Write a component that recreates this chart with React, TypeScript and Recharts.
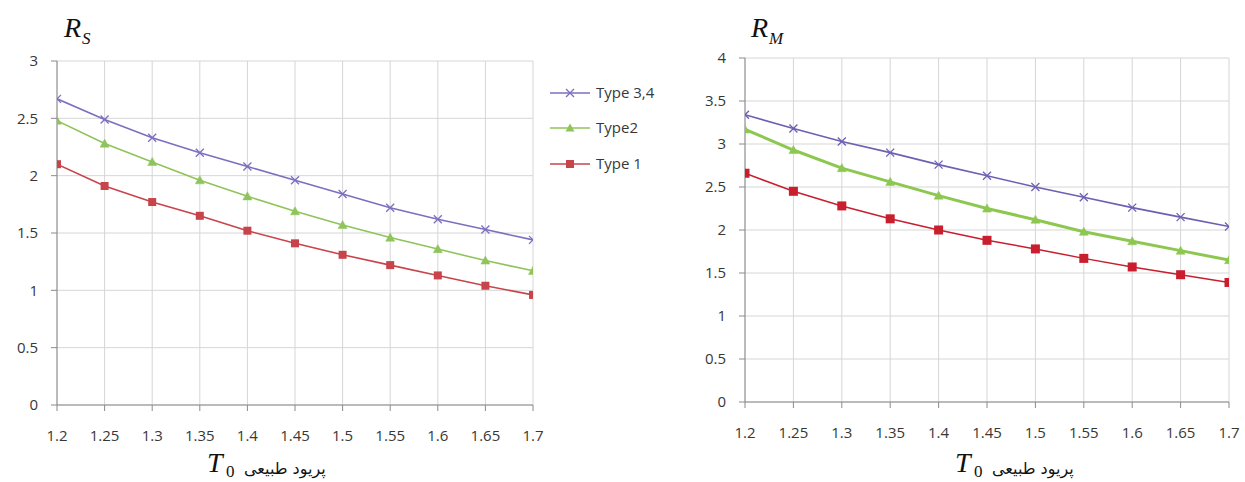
import React from "react";
import { LineChart, Line, XAxis, YAxis, CartesianGrid } from "recharts";

const T0 = [1.2, 1.25, 1.3, 1.35, 1.4, 1.45, 1.5, 1.55, 1.6, 1.65, 1.7];
const T0_MINOR = [1.225, 1.275, 1.325, 1.375, 1.425, 1.475, 1.525, 1.575, 1.625, 1.675];

const rsType34 = [2.67, 2.49, 2.33, 2.2, 2.08, 1.96, 1.84, 1.72, 1.62, 1.53, 1.44];
const rsType2 = [2.48, 2.28, 2.12, 1.96, 1.82, 1.69, 1.57, 1.46, 1.36, 1.26, 1.17];
const rsType1 = [2.1, 1.91, 1.77, 1.65, 1.52, 1.41, 1.31, 1.22, 1.13, 1.04, 0.96];

const rmType34 = [3.34, 3.18, 3.03, 2.9, 2.76, 2.63, 2.5, 2.38, 2.26, 2.15, 2.04];
const rmType2 = [3.17, 2.93, 2.72, 2.56, 2.4, 2.25, 2.12, 1.98, 1.87, 1.76, 1.65];
const rmType1 = [2.66, 2.45, 2.28, 2.13, 2.0, 1.88, 1.78, 1.67, 1.57, 1.48, 1.39];

const RS_TICKS = [0, 0.5, 1, 1.5, 2, 2.5, 3];
const RM_TICKS = [0, 0.5, 1, 1.5, 2, 2.5, 3, 3.5, 4];

const LEGEND = ["Type 3,4", "Type2", "Type 1"];

const rsData = T0.map((t, i) => ({ t, a: rsType34[i], b: rsType2[i], c: rsType1[i] }));
const rmData = T0.map((t, i) => ({ t, a: rmType34[i], b: rmType2[i], c: rmType1[i] }));

const FONT = "'Open Sans', sans-serif";
const LABEL = "#383838";
const GRID = "#d6d6d6";
const AXIS = "#8a8a8a";

const crossDot = (color: string, s: number) => (p: any) => {
  const { cx, cy, index } = p;
  if (cx == null || cy == null) return <g key={index} />;
  return (
    <path
      key={index}
      d={`M${cx - s},${cy - s}L${cx + s},${cy + s}M${cx - s},${cy + s}L${cx + s},${cy - s}`}
      stroke={color}
      strokeWidth={1.3}
      fill="none"
    />
  );
};
const triDot = (color: string, s: number) => (p: any) => {
  const { cx, cy, index } = p;
  if (cx == null || cy == null) return <g key={index} />;
  return (
    <polygon
      key={index}
      points={`${cx},${cy - s} ${cx + s},${cy + s * 0.8} ${cx - s},${cy + s * 0.8}`}
      fill={color}
      stroke={color}
      strokeWidth={0.5}
    />
  );
};
const sqDot = (color: string, s: number) => (p: any) => {
  const { cx, cy, index } = p;
  if (cx == null || cy == null) return <g key={index} />;
  return <rect key={index} x={cx - s} y={cy - s} width={2 * s} height={2 * s} fill={color} />;
};

const tickStyle = { fontFamily: FONT, fontSize: 15, fill: LABEL };

function Chart(props: {
  data: any[];
  width: number;
  margin: any;
  yWidth: number;
  yTicks: number[];
  yMax: number;
  colors: string[];
  widths: number[];
  sizes: number[];
}) {
  const { data, width, margin, yWidth, yTicks, yMax, colors, widths, sizes } = props;
  return (
    <LineChart width={width} height={482} data={data} margin={margin}>
      <CartesianGrid stroke={GRID} strokeWidth={1} />
      <XAxis
        dataKey="t"
        type="number"
        domain={[1.2, 1.7]}
        ticks={T0}
        interval={0}
        tickFormatter={(v: number) => String(v)}
        height={40}
        tickSize={6}
        tickMargin={19}
        stroke={AXIS}
        tick={tickStyle}
        allowDataOverflow
      />
      <XAxis
        xAxisId="minor"
        dataKey="t"
        type="number"
        domain={[1.2, 1.7]}
        ticks={T0_MINOR}
        interval={0}
        mirror
        tick={false}
        axisLine={false}
        tickSize={5}
        stroke={AXIS}
        height={1}
        allowDataOverflow
      />
      <YAxis
        type="number"
        domain={[0, yMax]}
        ticks={yTicks}
        interval={0}
        width={yWidth}
        tickSize={6}
        tickMargin={13}
        stroke={AXIS}
        tick={tickStyle}
        tickFormatter={(v: number) => String(v)}
      />
      <Line dataKey="a" stroke={colors[0]} strokeWidth={widths[0]} dot={crossDot(colors[0], sizes[0])} isAnimationActive={false} />
      <Line dataKey="b" stroke={colors[1]} strokeWidth={widths[1]} dot={triDot(colors[1], sizes[1])} isAnimationActive={false} />
      <Line dataKey="c" stroke={colors[2]} strokeWidth={widths[2]} dot={sqDot(colors[2], sizes[2])} isAnimationActive={false} />
    </LineChart>
  );
}

const LEFT_COLORS = ["#7b70bf", "#8fc45a", "#c8444b"];
const RIGHT_COLORS = ["#6c60b3", "#8cc850", "#c81e2e"];

export default function App() {
  const legendY = [93, 128, 164];
  return (
    <div style={{ position: "absolute", left: 0, top: 0, width: 1245, height: 482, background: "#fff", overflow: "hidden" }}>
      <div style={{ position: "absolute", left: 0, top: 0 }}>
        <Chart
          data={rsData}
          width={545}
          margin={{ top: 61, right: 12, left: 0, bottom: 37 }}
          yWidth={57}
          yTicks={RS_TICKS}
          yMax={3}
          colors={LEFT_COLORS}
          widths={[1.6, 1.6, 1.6]}
          sizes={[4, 4.5, 4]}
        />
      </div>
      <div style={{ position: "absolute", left: 680, top: 0 }}>
        <Chart
          data={rmData}
          width={565}
          margin={{ top: 58, right: 16, left: 0, bottom: 40 }}
          yWidth={65}
          yTicks={RM_TICKS}
          yMax={4}
          colors={RIGHT_COLORS}
          widths={[1.6, 3, 1.5]}
          sizes={[4, 4.5, 4.5]}
        />
      </div>
      <svg width={1245} height={482} style={{ position: "absolute", left: 0, top: 0, pointerEvents: "none" }}>
        <text x={64} y={37} fontFamily="'Liberation Serif', serif" fontStyle="italic" fontSize={28} fill="#111">R</text>
        <text x={82} y={44} fontFamily="'Liberation Serif', serif" fontStyle="italic" fontSize={17} fill="#111">S</text>
        <text x={751} y={37} fontFamily="'Liberation Serif', serif" fontStyle="italic" fontSize={28} fill="#111">R</text>
        <text x={769} y={44} fontFamily="'Liberation Serif', serif" fontStyle="italic" fontSize={17} fill="#111">M</text>

        <text x={207} y={472} fontFamily="'Liberation Serif', serif" fontStyle="italic" fontSize={28} fill="#111">T</text>
        <text x={226} y={477} fontFamily="'Liberation Serif', serif" fontSize={17} fill="#111">0</text>
        <text x={244} y={474} fontFamily="'DejaVu Sans', sans-serif" fontSize={16} fill="#111">پریود طبیعی</text>

        <text x={955} y={472} fontFamily="'Liberation Serif', serif" fontStyle="italic" fontSize={28} fill="#111">T</text>
        <text x={974} y={477} fontFamily="'Liberation Serif', serif" fontSize={17} fill="#111">0</text>
        <text x={992} y={474} fontFamily="'DejaVu Sans', sans-serif" fontSize={16} fill="#111">پریود طبیعی</text>

        {LEGEND.map((name, i) => {
          const y = legendY[i];
          const c = LEFT_COLORS[i];
          return (
            <g key={name}>
              <line x1={550} x2={590} y1={y} y2={y} stroke={c} strokeWidth={1.5} />
              {i === 0 && <path d={`M566,${y - 4}L574,${y + 4}M566,${y + 4}L574,${y - 4}`} stroke={c} strokeWidth={1.3} />}
              {i === 1 && <polygon points={`570,${y - 4.5} 574.5,${y + 3.6} 565.5,${y + 3.6}`} fill={c} />}
              {i === 2 && <rect x={566} y={y - 4} width={8} height={8} fill={c} />}
              <text x={596} y={y + 5} fontFamily={FONT} fontSize={15} fill={LABEL}>{name}</text>
            </g>
          );
        })}
      </svg>
    </div>
  );
}
